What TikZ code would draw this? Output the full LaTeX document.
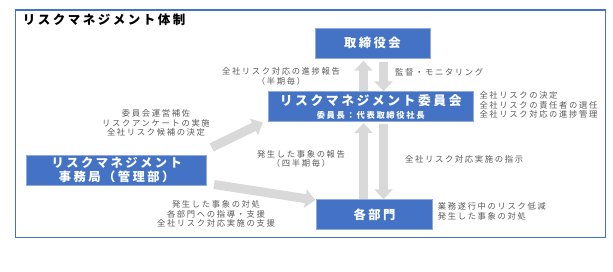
\documentclass[tikz,border=0pt]{standalone}
\usepackage{fontspec}
\setmainfont[LetterSpace=20]{Noto Sans CJK JP}
\usetikzlibrary{arrows.meta}
\definecolor{boxblue}{HTML}{4472C4}
\definecolor{boxline}{HTML}{8FAADC}
\definecolor{arrowgray}{HTML}{D9D9D9}
\definecolor{notegray}{HTML}{595959}
\tikzstyle{unit} = [draw=boxline, fill=boxblue, text=white, line width=0.8pt,
  minimum height=30pt, inner sep=0pt, align=center,
  font=\fontsize{12.3}{14}\selectfont\bfseries]
\tikzstyle{note} = [text=notegray, inner sep=0pt,
  font=\fontsize{8.3}{9.5}\selectfont]
\tikzstyle{bigarrow} = [line width=9pt, draw=arrowgray,
  -{Triangle[length=10pt,width=18pt]}]

\begin{document}
\begin{tikzpicture}[x=1pt,y=-1pt]
    \useasboundingbox (0,0) rectangle (613,272);
    \draw[boxblue, line width=1.2pt] (15.7,10) rectangle (605.7,237.7);
    \node[anchor=west, inner sep=0pt, font=\fontsize{12.5}{14}\selectfont\bfseries]
        (title) at (22.7,19.3) {リスクマネジメント体制};
    % boxes
    \node[unit,minimum width=115pt] (board) at (372.5,43.3) {取締役会};
    \node[unit,minimum width=205pt] (iinkai) at (370.7,106.7)
        {{\fontsize{12.8}{14}\selectfont リスクマネジメント委員会}\\[-1.5pt]{\fontsize{8.3}{9}\selectfont 委員長：代表取締役社長}};
    \node[unit,minimum width=180pt] (jimu) at (116.7,170)
        {リスクマネジメント\\事務局（管理部）};
    \node[unit,minimum width=115.6pt] (dept) at (374.5,214.7) {各部門};
    % labels
    \node[note,align=center] (upreport) at (281,76.2)
        {全社リスク対応の進捗報告\\（半期毎）};
    \node[note,anchor=west] (monitor) at (395,72.7) {監督・モニタリング};
    \node[note,anchor=west,align=left] (duties) at (479.3,105)
        {全社リスクの決定\\全社リスクの責任者の選任\\全社リスク対応の進捗管理};
    \node[note,align=center] (support) at (156,123.3)
        {委員会運営補佐\\リスクアンケートの実施\\全社リスク候補の決定};
    \node[note,align=center] (incident) at (301,159)
        {発生した事象の報告\\（四半期毎）};
    \node[note,anchor=west] (order) at (405,159.5) {全社リスク対応実施の指示};
    \node[note,align=center] (guide) at (216,214.3)
        {発生した事象の対処\\各部門への指導・支援\\全社リスク対応実施の支援};
    \node[note,anchor=west,align=left] (tasks) at (437.7,211.3)
        {業務遂行中のリスク低減\\発生した事象の対処};
    % arrows
    \coordinate (upx) at (363.5,0);
    \coordinate (downx) at (383.5,0);
    \draw[bigarrow,shorten >=2pt] (iinkai.north -| upx) -- (board.south -| upx);
    \draw[bigarrow,shorten <=3pt] (board.south -| downx) -- (iinkai.north -| downx);
    \draw[bigarrow,shorten >=1pt] (dept.north -| upx) -- (iinkai.south -| upx);
    \draw[bigarrow,shorten <=2pt] (iinkai.south -| downx) -- (dept.north -| downx);
    \draw[bigarrow,shorten <=5pt,shorten >=1pt] ([yshift=5pt]jimu.north east)
        -- ([xshift=-4pt]iinkai.south west);
    \draw[bigarrow,shorten <=7pt,shorten >=1pt] ([yshift=2pt]jimu.south east)
        -- ([yshift=-1pt]dept.north west);
\end{tikzpicture}
\end{document}
